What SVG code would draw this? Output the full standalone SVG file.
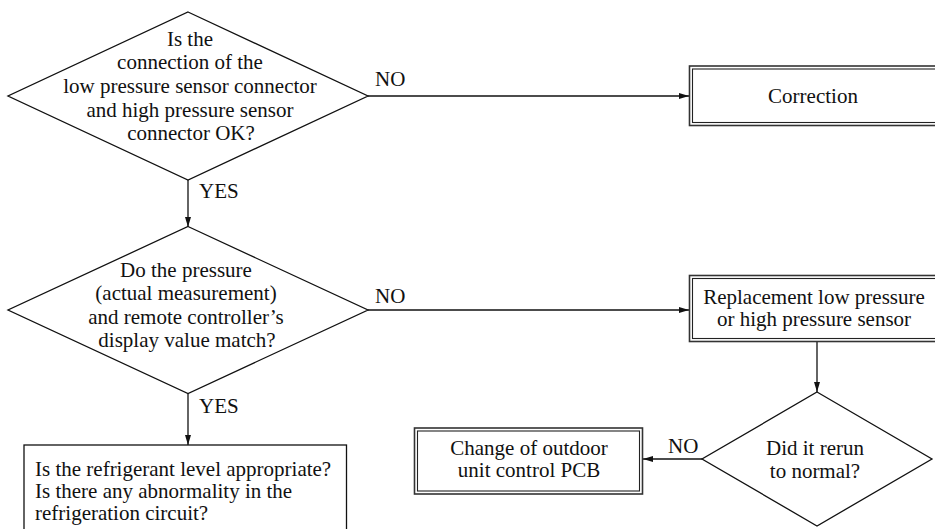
<svg xmlns="http://www.w3.org/2000/svg" width="935" height="529" viewBox="0 0 935 529">
  <style>
    text { font-family: "Liberation Serif", "Times New Roman", serif; font-size: 21px; fill: #111; }
    .c { text-anchor: middle; }
    .shape { fill: #fff; stroke: #111; stroke-width: 1.3; }
    .outer { fill: #fff; stroke: #333; stroke-width: 1.6; }
    .inner { fill: none; stroke: #222; stroke-width: 1.1; }
    .link { fill: none; stroke: #111; stroke-width: 1.3; }
  </style>
  <defs>
    <marker id="arrow" markerUnits="userSpaceOnUse" markerWidth="10" markerHeight="6" refX="10" refY="3" orient="auto">
      <path d="M0,0 L10,3 L0,6 z" fill="#111"/>
    </marker>
  </defs>

  <!-- connectors -->
  <g id="connectors">
    <line class="link" x1="368" y1="96" x2="689" y2="96" marker-end="url(#arrow)"/>
    <line class="link" x1="188" y1="180" x2="188" y2="227" marker-end="url(#arrow)"/>
    <line class="link" x1="368" y1="310" x2="689" y2="310" marker-end="url(#arrow)"/>
    <line class="link" x1="188" y1="393.5" x2="188" y2="445" marker-end="url(#arrow)"/>
    <line class="link" x1="817" y1="341.5" x2="817" y2="392" marker-end="url(#arrow)"/>
    <line class="link" x1="702" y1="459" x2="643" y2="459" marker-end="url(#arrow)"/>
    <text x="375" y="86">NO</text>
    <text x="199" y="198">YES</text>
    <text x="375" y="303">NO</text>
    <text x="199" y="413">YES</text>
    <text x="668" y="453">NO</text>
  </g>

  <!-- decision: connector check -->
  <g id="check-connectors">
    <polygon class="shape" points="188,12 368,96 188,180 8,96"/>
    <text class="c" x="190" y="45.5">Is the</text>
    <text class="c" x="190" y="69">connection of the</text>
    <text class="c" x="190" y="92.7">low pressure sensor connector</text>
    <text class="c" x="190" y="116.5">and high pressure sensor</text>
    <text class="c" x="191" y="140">connector OK?</text>
  </g>

  <!-- action: correction -->
  <g id="correction">
    <rect class="outer" x="689.5" y="66" width="260" height="59.5"/>
    <rect class="inner" x="692.5" y="69" width="260" height="53.5"/>
    <text class="c" x="813" y="103">Correction</text>
  </g>

  <!-- decision: pressure reading check -->
  <g id="check-pressure">
    <polygon class="shape" points="188,226.5 368,310 188,393.5 8,310"/>
    <text class="c" x="186" y="276.7">Do the pressure</text>
    <text class="c" x="186" y="300.2">(actual measurement)</text>
    <text class="c" x="186" y="323.7">and remote controller’s</text>
    <text class="c" x="187" y="347">display value match?</text>
  </g>

  <!-- action: replace sensor -->
  <g id="replace-sensor">
    <rect class="outer" x="689.5" y="275.5" width="260" height="66"/>
    <rect class="inner" x="692.5" y="278.5" width="260" height="60"/>
    <text class="c" x="814" y="304">Replacement low pressure</text>
    <text class="c" x="814" y="326">or high pressure sensor</text>
  </g>

  <!-- refrigerant check -->
  <g id="check-refrigerant">
    <rect class="shape" x="24" y="445" width="322.5" height="100"/>
    <text x="35" y="476">Is the refrigerant level appropriate?</text>
    <text x="35" y="498">Is there any abnormality in the</text>
    <text x="35" y="520">refrigeration circuit?</text>
  </g>

  <!-- decision: normal operation -->
  <g id="check-normal">
    <polygon class="shape" points="817,392 932,459 817,526 702,459"/>
    <text class="c" x="815" y="455">Did it rerun</text>
    <text class="c" x="815" y="478">to normal?</text>
  </g>

  <!-- action: change PCB -->
  <g id="change-pcb">
    <rect class="outer" x="414.5" y="428" width="228" height="66"/>
    <rect class="inner" x="417.5" y="431" width="222" height="60"/>
    <text class="c" x="529" y="455">Change of outdoor</text>
    <text class="c" x="529" y="477">unit control PCB</text>
  </g>
</svg>
